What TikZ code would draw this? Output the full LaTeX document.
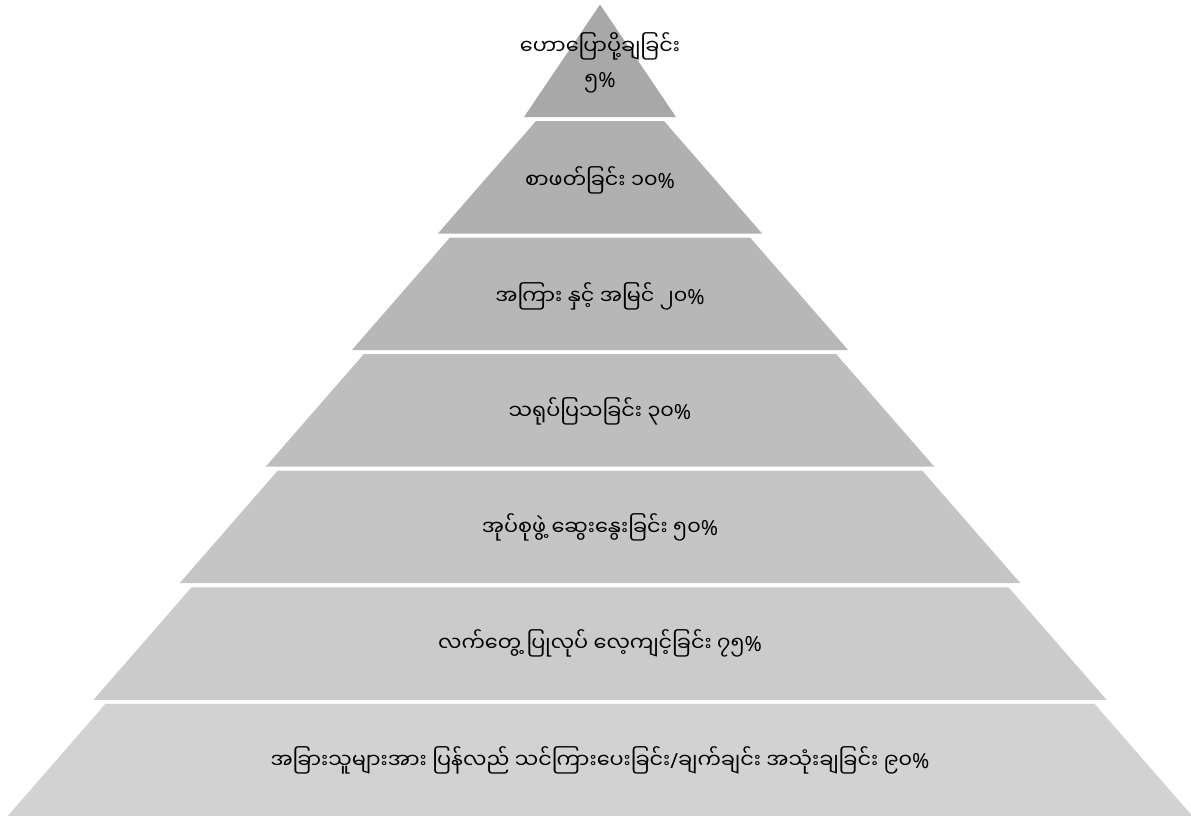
\documentclass[tikz,border=0pt]{standalone}
\usepackage{fontspec}
\newfontfamily\mmfont[Script=Myanmar]{Noto Sans Myanmar UI}
\newfontfamily\latinfont{Noto Sans}
\newcommand{\pcsign}{{\latinfont\%}}
\newcommand{\mmslash}{{\latinfont/}}

\begin{document}
\begin{tikzpicture}[
    x=1pt, y=-1pt,
    label/.style={font=\mmfont\fontsize{20.8}{33}\selectfont, align=center, text=black}
]
\useasboundingbox (0,0) rectangle (1191,815);

% pyramid layers, top to bottom
\foreach \k/\shade in {1/168, 2/176, 3/183, 4/190, 5/197, 6/203, 7/210}{
  \pgfmathsetmacro{\ytop}{4.5+(\k-1)*116.55}
  \pgfmathsetmacro{\ybot}{117+(\k-1)*116.55}
  \pgfmathsetmacro{\wtop}{\k==1 ? 0 : 64+(\k-2)*86.1}
  \pgfmathsetmacro{\wbot}{76+(\k-1)*86.1}
  \pgfmathsetmacro{\pct}{100*(255-\shade)/255}
  \fill[black!\pct] (600-\wtop,\ytop) -- (600+\wtop,\ytop)
        -- (600+\wbot,\ybot) -- (600-\wbot,\ybot) -- cycle;
}

\node[label] (l1) at (600,63)  {ဟောပြောပို့ချခြင်း\\၅\pcsign};
\node[label] (l2) at (600,180) {စာဖတ်ခြင်း ၁၀\pcsign};
\node[label] (l3) at (600,296) {အကြား နှင့် အမြင် ၂၀\pcsign};
\node[label] (l4) at (600,411) {သရုပ်ပြသခြင်း ၃၀\pcsign};
\node[label] (l5) at (600,527) {အုပ်စုဖွဲ့ ဆွေးနွေးခြင်း ၅၀\pcsign};
\node[label] (l6) at (600,643) {လက်တွေ့ ပြုလုပ် လေ့ကျင့်ခြင်း ၇၅\pcsign};
\node[label] (l7) at (600,760) {အခြားသူများအား ပြန်လည် သင်ကြားပေးခြင်း\mmslash ချက်ချင်း အသုံးချခြင်း ၉၀\pcsign};

\end{tikzpicture}
\end{document}
